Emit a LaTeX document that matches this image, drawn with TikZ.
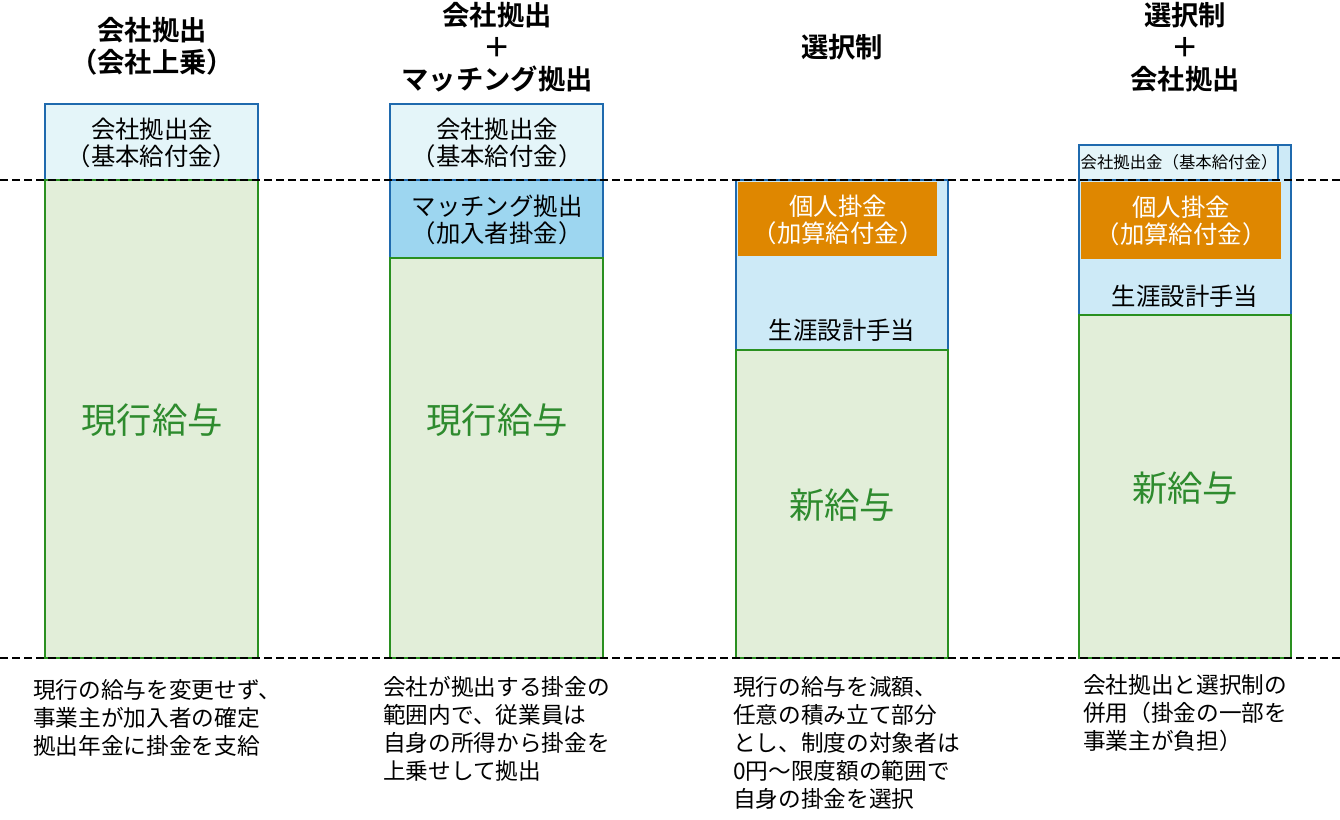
\documentclass[tikz,border=0pt]{standalone}
\usepackage{fontspec}
\setmainfont{Noto Sans CJK JP}[BoldFont={Noto Sans CJK JP Bold}]
\usepackage{tikz}
\usetikzlibrary{positioning}
\definecolor{azul}{HTML}{1F6AAE}
\definecolor{celeste}{HTML}{E4F5F9}
\definecolor{celestemedio}{HTML}{9DD6F0}
\definecolor{celesteclaro}{HTML}{CDEAF7}
\definecolor{naranja}{HTML}{DF8700}
\definecolor{verdeclaro}{HTML}{E2EED9}
\definecolor{verde}{HTML}{2A9020}
\definecolor{verdetexto}{HTML}{2E8B2E}
\tikzstyle{cajaazul} = [draw=azul, line width=1.5pt]
\tikzstyle{cajaverde} = [draw=verde, fill=verdeclaro, line width=1.5pt]
\tikzstyle{titulo} = [font=\bfseries\fontsize{20.5}{24}\selectfont, align=center, inner sep=0pt]
\tikzstyle{etiqueta} = [font=\fontsize{18.3}{20}\selectfont, align=center, inner sep=0pt]
\tikzstyle{sueldo} = [font=\fontsize{26.5}{30}\selectfont, text=verdetexto, inner sep=0pt]
\tikzstyle{nota} = [font=\fontsize{17}{21}\selectfont, align=left, anchor=north west, inner sep=0pt]

\begin{document}
\begin{tikzpicture}[x=0.75pt, y=-0.75pt]
	\useasboundingbox (0,0) rectangle (1340,820);
	% columna 1
	\filldraw[cajaazul, fill=celeste] (45,104) rectangle (258,180);
	\filldraw[cajaverde] (45,180) rectangle (258,658);
	\node[titulo] (tit1) at (152,46) {会社拠出\\（会社上乗）};
	\node[etiqueta] (base1) at (152,143) {会社拠出金\\（基本給付金）};
	\node[sueldo] (sueldo1) at (152,420) {現行給与};
	\node[nota] (nota1) at (33,679) {現行の給与を変更せず、\\事業主が加入者の確定\\拠出年金に掛金を支給};
	% columna 2
	\filldraw[cajaazul, fill=celeste] (390,104) rectangle (603,180);
	\filldraw[cajaazul, fill=celestemedio] (390,180) rectangle (603,258);
	\filldraw[cajaverde] (390,258) rectangle (603,658);
	\node[titulo] (tit2) at (497,47) {会社拠出\\＋\\マッチング拠出};
	\node[etiqueta] (base2) at (497,143) {会社拠出金\\（基本給付金）};
	\node[etiqueta] (match2) at (497,220) {マッチング拠出\\（加入者掛金）};
	\node[sueldo] (sueldo2) at (497,420) {現行給与};
	\node[nota] (nota2) at (383,676) {会社が拠出する掛金の\\範囲内で、従業員は\\自身の所得から掛金を\\上乗せして拠出};
	% columna 3
	\filldraw[cajaazul, fill=celesteclaro] (736,180) rectangle (948,350);
	\fill[naranja] (738,182) rectangle (937,256);
	\filldraw[cajaverde] (736,350) rectangle (948,658);
	\node[titulo] (tit3) at (842,47) {選択制};
	\node[etiqueta, text=white] (indiv3) at (838,220) {個人掛金\\（加算給付金）};
	\node[etiqueta] (plan3) at (842,330) {生涯設計手当};
	\node[sueldo] (sueldo3) at (842,505) {新給与};
	\node[nota] (nota3) at (733,676) {現行の給与を減額、\\任意の積み立て部分\\とし、制度の対象者は\\0円～限度額の範囲で\\自身の掛金を選択};
	% columna 4
	\filldraw[cajaazul, fill=celesteclaro] (1079,145) rectangle (1291,315);
	\filldraw[cajaazul, fill=celeste] (1079,145) rectangle (1278,180);
	\fill[naranja] (1081,182) rectangle (1281,259);
	\filldraw[cajaverde] (1079,315) rectangle (1291,658);
	\node[titulo] (tit4) at (1185,47) {選択制\\＋\\会社拠出};
	\node[etiqueta, font=\fontsize{12.3}{14}\selectfont] (base4) at (1179,162) {会社拠出金（基本給付金）};
	\node[etiqueta, text=white] (indiv4) at (1181,221) {個人掛金\\（加算給付金）};
	\node[etiqueta] (plan4) at (1185,296) {生涯設計手当};
	\node[sueldo] (sueldo4) at (1185,488) {新給与};
	\node[nota] (nota4) at (1083,674) {会社拠出と選択制の\\併用（掛金の一部を\\事業主が負担）};
	% lineas de referencia
	\draw[dashed, line width=0.9pt, dash pattern=on 6pt off 3pt] (0,180) -- (1340,180);
	\draw[dashed, line width=0.9pt, dash pattern=on 6pt off 3pt] (0,658) -- (1340,658);
\end{tikzpicture}
\end{document}
